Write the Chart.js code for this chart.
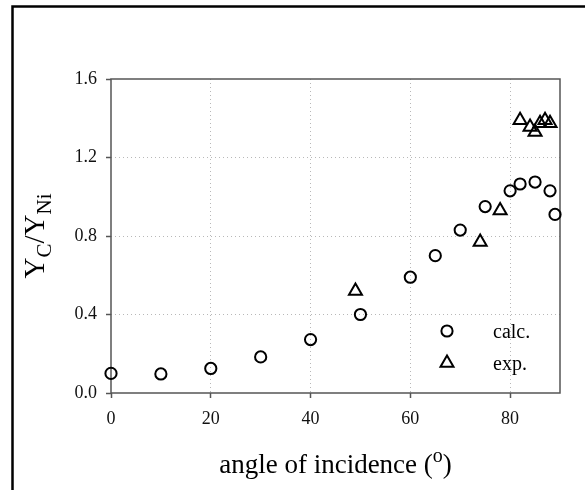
<!DOCTYPE html>
<html>
<head>
<meta charset="utf-8">
<script src="https://cdn.jsdelivr.net/npm/chart.js@4/dist/chart.umd.min.js"></script>
<style>
  html, body { margin: 0; padding: 0; background: #fff; }
  #chart { display: block; }
</style>
</head>
<body>
<canvas id="chart" width="585" height="490"></canvas>
<script>
// calculated yield ratio
const calcAngle = [0, 10, 20, 30, 40, 50, 60, 65, 70, 75, 80, 82, 85, 88, 89];
const calcRatio = [0.10, 0.097, 0.125, 0.184, 0.272, 0.40, 0.59, 0.70, 0.83, 0.95, 1.03, 1.065, 1.075, 1.03, 0.91];

// measured yield ratio
const expAngle = [49, 74, 78, 82, 84, 85, 86, 87, 88];
const expRatio = [0.52, 0.77, 0.93, 1.39, 1.355, 1.33, 1.375, 1.39, 1.375];

const xTicks = [0, 20, 40, 60, 80];
const yTicks = [0.0, 0.4, 0.8, 1.2, 1.6];

const serif = '"Liberation Serif", "Times New Roman", serif';

function toPoints(xs, ys) {
  return xs.map((x, i) => ({ x: x, y: ys[i] }));
}

// draws a list of text runs one after another, each with its own size and baseline shift
function drawRuns(ctx, runs, x, y, align) {
  let total = 0;
  runs.forEach(r => {
    ctx.font = r.size + 'px ' + serif;
    r.w = ctx.measureText(r.text).width;
    total += r.w;
  });
  let cx = align === 'center' ? x - total / 2 : x;
  runs.forEach(r => {
    ctx.font = r.size + 'px ' + serif;
    ctx.fillText(r.text, cx, y + (r.dy || 0));
    cx += r.w;
  });
}

const framePlugin = {
  id: 'frame',
  beforeDatasetsDraw(chart) {
    const { ctx, chartArea: a } = chart;
    ctx.save();
    ctx.strokeStyle = '#555';
    ctx.lineWidth = 1.5;
    ctx.strokeRect(a.left, a.top, a.right - a.left, a.bottom - a.top);
    ctx.restore();
  },
  afterDraw(chart) {
    const { ctx, chartArea: a } = chart;
    ctx.save();
    ctx.fillStyle = '#000';
    ctx.textBaseline = 'alphabetic';
    ctx.textAlign = 'left';

    // x axis title
    drawRuns(ctx, [
      { text: 'angle of incidence (', size: 27 },
      { text: 'o', size: 20, dy: -11 },
      { text: ')', size: 27 }
    ], (a.left + a.right) / 2, 473, 'center');

    // y axis title, rotated
    ctx.save();
    ctx.translate(44, (a.top + a.bottom) / 2);
    ctx.rotate(-Math.PI / 2);
    drawRuns(ctx, [
      { text: 'Y', size: 29 },
      { text: 'C', size: 21, dy: 7 },
      { text: '/Y', size: 29 },
      { text: 'Ni', size: 21, dy: 7 }
    ], 0, 0, 'center');
    ctx.restore();

    // legend
    const lx = a.left + 336, ly = 331;
    ctx.strokeStyle = '#000';
    ctx.lineWidth = 2;
    ctx.beginPath();
    ctx.arc(lx, ly, 5.6, 0, Math.PI * 2);
    ctx.stroke();
    const r = 7.5, ty = ly + 32;
    ctx.beginPath();
    ctx.moveTo(lx, ty - r);
    ctx.lineTo(lx + r * Math.sin(2 * Math.PI / 3), ty + r / 2);
    ctx.lineTo(lx - r * Math.sin(2 * Math.PI / 3), ty + r / 2);
    ctx.closePath();
    ctx.stroke();
    ctx.font = '20px ' + serif;
    ctx.fillText('calc.', 493, 338);
    ctx.fillText('exp.', 493, 370);

    // outer figure frame
    ctx.strokeStyle = '#000';
    ctx.lineWidth = 2.5;
    ctx.beginPath();
    ctx.moveTo(12.5, 490);
    ctx.lineTo(12.5, 6.5);
    ctx.lineTo(585, 6.5);
    ctx.stroke();
    ctx.restore();
  }
};

const gridColor = edge => ctx =>
  (ctx.tick && edge.some(v => Math.abs(ctx.tick.value - v) < 1e-6)) ? 'rgba(0,0,0,0)' : '#b8b8b8';

new Chart(document.getElementById('chart'), {
  type: 'scatter',
  data: {
    datasets: [{
      label: 'calc.',
      data: toPoints(calcAngle, calcRatio),
      pointStyle: 'circle',
      pointRadius: 5.6,
      pointBorderWidth: 2,
      borderColor: '#000',
      backgroundColor: 'rgba(0,0,0,0)',
      clip: false
    }, {
      label: 'exp.',
      data: toPoints(expAngle, expRatio),
      pointStyle: 'triangle',
      pointRadius: 7.5,
      pointBorderWidth: 2,
      borderColor: '#000',
      backgroundColor: 'rgba(0,0,0,0)',
      clip: false
    }]
  },
  options: {
    responsive: false,
    animation: false,
    devicePixelRatio: 1,
    events: [],
    layout: { padding: { left: 0, right: 25, top: 79, bottom: 0 } },
    plugins: { legend: { display: false }, tooltip: { enabled: false } },
    scales: {
      x: {
        type: 'linear',
        min: 0,
        max: 90,
        afterBuildTicks: scale => { scale.ticks = xTicks.map(v => ({ value: v })); },
        afterFit: scale => { scale.height = 97; },
        ticks: { font: { family: serif, size: 18 }, color: '#111', padding: 10, maxRotation: 0 },
        grid: { color: gridColor([0, 90]), lineWidth: 1, borderDash: [1, 3], tickBorderDash: [], tickLength: 5, tickColor: '#555', tickWidth: 1.5 },
        border: { display: false, dash: [1, 3] }
      },
      y: {
        type: 'linear',
        min: 0,
        max: 1.6,
        afterBuildTicks: scale => { scale.ticks = yTicks.map(v => ({ value: v })); },
        afterFit: scale => { scale.width = 111; },
        ticks: { font: { family: serif, size: 18 }, color: '#111', padding: 9, callback: v => v.toFixed(1) },
        grid: { color: gridColor([0, 1.6]), lineWidth: 1, borderDash: [1, 3], tickBorderDash: [], tickLength: 5, tickColor: '#555', tickWidth: 1.5 },
        border: { display: false, dash: [1, 3] }
      }
    }
  },
  plugins: [framePlugin]
});
</script>
</body>
</html>
